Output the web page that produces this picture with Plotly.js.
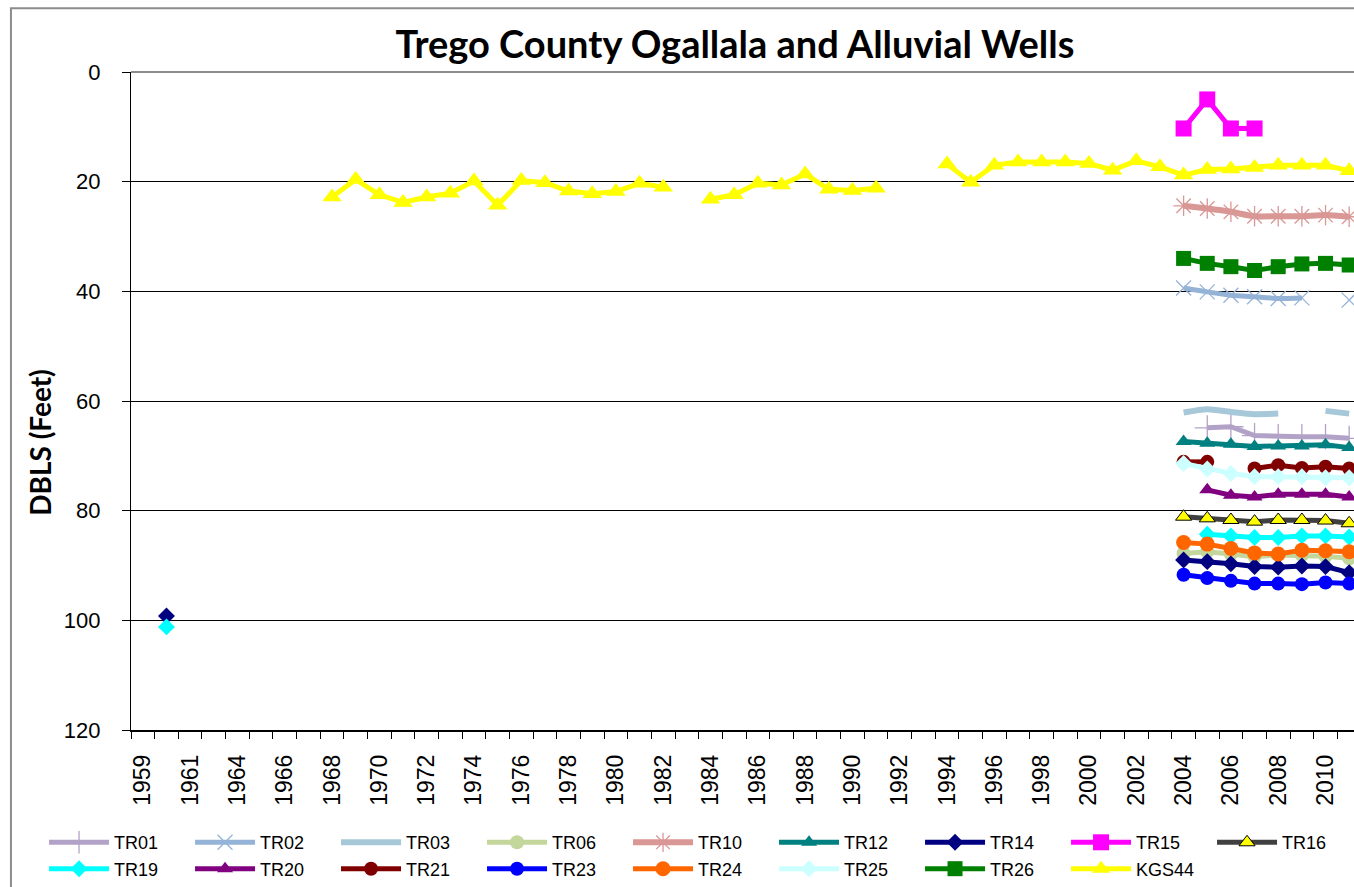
<!DOCTYPE html>
<html>
<head>
<meta charset="utf-8">
<script src="https://cdn.plot.ly/plotly-3.0.1.min.js"></script>
<style>
  html, body { margin: 0; padding: 0; overflow: hidden; background: #fff; }
  #grafico { width: 1380px; height: 887px; }
</style>
</head>
<body>
<div id="grafico"></div>
<script>
// categorias do eixo x (1962 não aparece no gráfico original)
const years = ['1959','1960','1961','1963','1964','1965','1966','1967','1968','1969',
  '1970','1971','1972','1973','1974','1975','1976','1977','1978','1979',
  '1980','1981','1982','1983','1984','1985','1986','1987','1988','1989',
  '1990','1991','1992','1993','1994','1995','1996','1997','1998','1999',
  '2000','2001','2002','2003','2004','2005','2006','2007','2008','2009',
  '2010','2011'];

// poço KGS44, série longa
const kgsYears = ['1968','1969','1970','1971','1972','1973','1974','1975','1976','1977',
  '1978','1979','1980','1981','1982',
  '1984','1985','1986','1987','1988','1989','1990','1991',
  '1994','1995','1996','1997','1998','1999','2000','2001','2002','2003',
  '2004','2005','2006','2007','2008','2009','2010','2011'];
const kgs44 = [22.8, 19.6, 22.4, 23.8, 22.8, 22.1, 19.9, 24.3, 19.8, 20.2,
  21.7, 22.2, 21.8, 20.3, 21.0,
  23.2, 22.4, 20.3, 20.6, 18.6, 21.4, 21.6, 21.2,
  16.8, 20.1, 17.0, 16.4, 16.4, 16.4, 16.7, 17.9, 16.2, 17.3,
  18.8, 17.8, 17.7, 17.4, 17.0, 17.0, 17.0, 18.0];

// poços TR, 2004-2011
const recentYears = ['2004','2005','2006','2007','2008','2009','2010','2011'];
const tr01 = [null, 64.9, 64.7, 66.3, 66.5, 66.5, 66.5, 66.8];
const tr02 = [39.4, 40.1, 40.7, 41.0, 41.3, 41.2, null, 41.6];
const tr03 = [62.1, 61.5, 62.0, 62.4, 62.3, null, 61.8, 62.3];
const tr06 = [87.8, 87.5, 87.9, 88.4, 88.1, 88.1, 88.3, 88.7];
const tr10 = [24.4, 24.9, 25.5, 26.3, 26.3, 26.3, 26.1, 26.4];
const tr12 = [67.4, 67.7, 67.9, 68.3, 68.2, 68.2, 68.0, 68.5];
const tr14 = [89.0, 89.3, 89.7, 90.2, 90.3, 90.1, 90.2, 91.3];
const tr15 = [10.3, 5.0, 10.3, 10.3, null, null, null, null];
const tr16 = [81.1, 81.4, 81.7, 82.0, 81.7, 81.7, 81.8, 82.3];
const tr19 = [null, 84.3, 84.6, 84.9, 84.9, 84.6, 84.6, 84.8];
const tr20 = [null, 76.2, 77.2, 77.5, 77.0, 77.0, 77.0, 77.5];
const tr21 = [71.1, 71.1, null, 72.3, 71.7, 72.2, 72.0, 72.3];
const tr23 = [91.7, 92.3, 92.8, 93.3, 93.3, 93.4, 93.1, 93.3];
const tr24 = [85.8, 86.1, 86.9, 87.7, 87.9, 87.2, 87.3, 87.5];
const tr25 = [71.4, 72.4, 73.2, 73.8, 73.8, 73.8, 74.0, 74.0];
const tr26 = [34.0, 34.9, 35.5, 36.2, 35.5, 35.0, 34.9, 35.2];

// medições antigas (1960)
const earlyYear = '1960';
const tr14Early = 99.2;
const tr19Early = 101.2;

// coloca os valores nas categorias, null onde não há medição (gera as falhas)
function noEixo(xs, ys) {
    return years.map(a => {
        let i = xs.indexOf(a);
        return i < 0 ? null : ys[i];
    });
}

function serie(nome, xs, ys, cor, marcador, extra = {}) {
    return Object.assign({
        x: years,
        y: noEixo(xs, ys),
        name: nome,
        type: 'scatter',
        mode: marcador ? 'lines+markers' : 'lines',
        connectgaps: false,
        line: { color: cor, width: 5 },
        marker: marcador || {}
    }, extra);
}

const rx = recentYears;
const traces = [
    serie('TR01', rx, tr01, '#B3A2C7', { symbol: 'cross-thin-open', size: 18, line: { color: '#B3A2C7', width: 1.3 } }),
    serie('TR02', rx, tr02, '#95B3D7', { symbol: 'x-thin-open', size: 15, line: { color: '#95B3D7', width: 1.3 } },
        { line: { color: '#95B3D7', width: 5, shape: 'spline', smoothing: 0.6 } }),
    serie('TR03', rx, tr03, '#A6C8D8', null,
        { line: { color: '#A6C8D8', width: 6, shape: 'spline', smoothing: 0.6 } }),
    serie('TR06', rx, tr06, '#C3D69B', { symbol: 'circle', size: 14, color: '#C3D69B' }),
    serie('TR10', rx, tr10, '#D99795', { symbol: 'asterisk-open', size: 17, line: { color: '#D99795', width: 1.3 } },
        { line: { color: '#D99795', width: 6, shape: 'spline', smoothing: 0.6 } }),
    serie('TR12', rx, tr12, '#008080', { symbol: 'triangle-up', size: 14, color: '#008080' }),
    serie('TR14', [earlyYear].concat(rx), [tr14Early].concat(tr14), '#000080', { symbol: 'diamond', size: 13, color: '#000080' }),
    serie('TR15', rx, tr15, '#FF00FF', { symbol: 'square', size: 16, color: '#FF00FF' }),
    serie('TR16', rx, tr16, '#404040', { symbol: 'triangle-up', size: 14, color: '#FFFF00', line: { color: '#000000', width: 1 } }),
    serie('TR19', [earlyYear].concat(rx), [tr19Early].concat(tr19), '#00FFFF', { symbol: 'diamond', size: 13, color: '#00FFFF' }),
    serie('TR20', rx, tr20, '#800080', { symbol: 'triangle-up', size: 14, color: '#800080' }),
    serie('TR21', rx, tr21, '#800000', { symbol: 'circle', size: 14, color: '#800000' }),
    serie('TR23', rx, tr23, '#0000FF', { symbol: 'circle', size: 14, color: '#0000FF' }),
    serie('TR24', rx, tr24, '#FF6600', { symbol: 'circle', size: 15, color: '#FF6600' }),
    serie('TR25', rx, tr25, '#CCFFFF', { symbol: 'diamond', size: 13, color: '#CCFFFF' }),
    serie('TR26', rx, tr26, '#008000', { symbol: 'square', size: 15, color: '#008000' }),
    serie('KGS44', kgsYears, kgs44, '#FFFF00', { symbol: 'triangle-up', size: 17, color: '#FFFF00' })
];

const familia = 'Liberation Sans, Arial, sans-serif';

const layout = {
    width: 1380,
    height: 887,
    margin: { l: 131, r: 19, t: 72, b: 157, autoexpand: false },
    paper_bgcolor: '#fff',
    plot_bgcolor: '#fff',
    showlegend: true,
    title: {
        text: 'Trego County Ogallala and Alluvial Wells',
        font: { family: 'Lato, Open Sans, sans-serif', size: 38, weight: 'bold', color: '#000' },
        xref: 'paper', x: 0.491, xanchor: 'center',
        yref: 'container', y: 0.95, yanchor: 'middle'
    },
    xaxis: {
        type: 'category',
        categoryorder: 'array',
        categoryarray: years,
        range: [-0.5, years.length - 0.5],
        tickmode: 'array',
        tickvals: years,
        ticktext: years.map((a, i) => i % 2 === 0 ? a : ''),
        tickson: 'boundaries',
        ticks: 'outside',
        ticklen: 7,
        tickcolor: '#000',
        tickangle: -90,
        ticklabelstandoff: 14,
        tickfont: { family: familia, size: 23, color: '#000' },
        showgrid: false,
        showline: true,
        linecolor: '#000',
        linewidth: 1.5,
        zeroline: false
    },
    yaxis: {
        range: [120, 0],
        dtick: 20,
        ticks: 'outside',
        ticklen: 8,
        tickcolor: '#000',
        ticksuffix: '\u00A0\u00A0\u2009',
        tickfont: { family: familia, size: 22, color: '#000' },
        showgrid: true,
        gridcolor: '#000',
        gridwidth: 1,
        zeroline: true,
        zerolinecolor: '#8c8c8c',
        zerolinewidth: 2,
        showline: true,
        linecolor: '#000',
        linewidth: 1.5
    },
    legend: {
        orientation: 'h',
        x: -0.0707, xanchor: 'left',
        y: -0.143, yanchor: 'top',
        itemwidth: 60,
        entrywidth: 71,
        entrywidthmode: 'pixels',
        tracegroupgap: 0,
        font: { family: familia, size: 18, color: '#000' },
        bgcolor: 'rgba(0,0,0,0)'
    },
    annotations: [{
        text: 'DBLS (Feet)',
        textangle: -90,
        xref: 'paper', yref: 'paper',
        x: -0.074, y: 0.438,
        xanchor: 'center', yanchor: 'middle',
        showarrow: false,
        font: { family: 'Lato, Open Sans, sans-serif', size: 28, weight: 'bold', color: '#000' }
    }],
    shapes: [{
        type: 'rect', xref: 'paper', yref: 'paper',
        x0: -0.0976, x1: 1.05, y0: -0.25, y1: 1.097,
        line: { color: '#8c8c8c', width: 2 },
        layer: 'below'
    }]
};

Plotly.newPlot('grafico', traces, layout, { displayModeBar: false, staticPlot: true });
</script>
</body>
</html>
